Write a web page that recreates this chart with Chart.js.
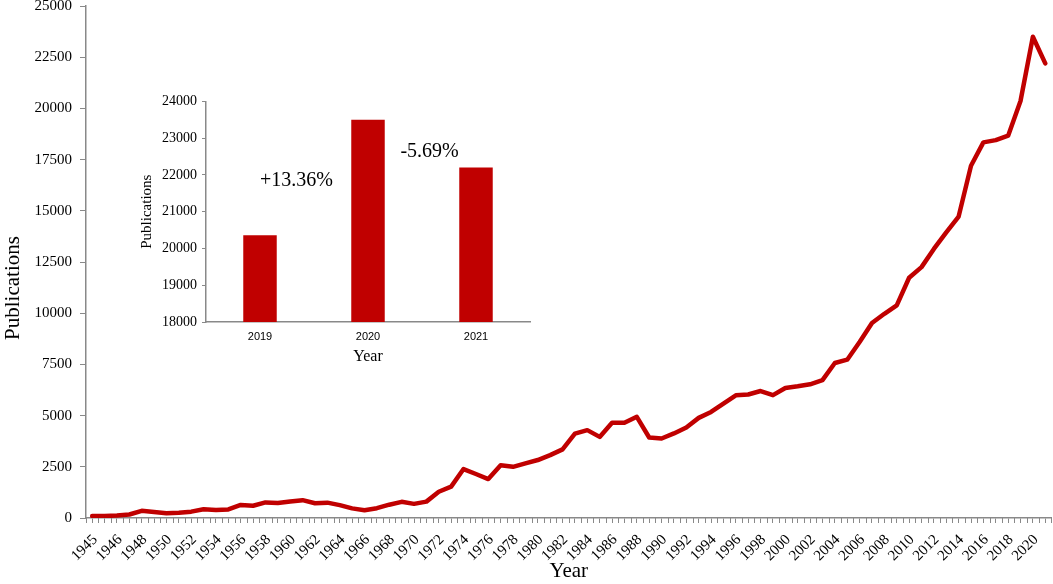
<!DOCTYPE html>
<html>
<head>
<meta charset="utf-8">
<script src="https://cdn.jsdelivr.net/npm/chart.js@4.4.0/dist/chart.umd.min.js"></script>
<style>
  html, body { margin: 0; padding: 0; background: #fff; overflow: hidden; }
  #wrap { position: relative; width: 1053px; height: 584px; overflow: hidden; }
  .box { position: absolute; }
</style>
</head>
<body>
<div id="wrap">
  <div class="box" style="left:0;top:-11px;width:1066px;height:595px"><canvas id="chart1"></canvas></div>
  <div class="box" style="left:130px;top:88px;width:420px;height:285px"><canvas id="chart2"></canvas></div>
</div>
<script>
// data
var years = ['1945', '', '1946', '1947', '1948', '1949', '1950', '1951', '1952', '1953',
    '1954', '1955', '1956', '1957', '1958', '1959', '1960', '1961', '1962', '1963',
    '1964', '1965', '1966', '1967', '1968', '1969', '1970', '1971', '1972', '1973',
    '1974', '1975', '1976', '1977', '1978', '1979', '1980', '1981', '1982', '1983',
    '1984', '1985', '1986', '1987', '1988', '1989', '1990', '1991', '1992', '1993',
    '1994', '1995', '1996', '1997', '1998', '1999', '2000', '2001', '2002', '2003',
    '2004', '2005', '2006', '2007', '2008', '2009', '2010', '2011', '2012', '2013',
    '2014', '2015', '2016', '2017', '2018', '2019', '2020', '2021'];

var publications = [100, 100, 120, 170, 350, 290, 230, 260, 310, 430,
    390, 420, 640, 600, 760, 730, 810, 870, 720, 750,
    630, 470, 380, 480, 650, 790, 690, 800, 1280, 1530,
    2390, 2150, 1900, 2580, 2500, 2670, 2830, 3070, 3350, 4120,
    4290, 3960, 4650, 4650, 4940, 3930, 3880, 4130, 4420, 4890,
    5180, 5590, 5990, 6030, 6200, 6000, 6350, 6430, 6530, 6730,
    7570, 7730, 8590, 9520, 9970, 10380, 11730, 12250, 13140, 13950,
    14720, 17200, 18340, 18450, 18670, 20360, 23500, 22200];

var insetYears = ['2019', '2020', '2021'];
var insetValues = [20360, 23500, 22200];
var changeLabels = ['+13.36%', '-5.69%'];

var serif = "'Liberation Serif', 'Times New Roman', serif";
var sans = "'Liberation Sans', Arial, sans-serif";
var red = '#C00000';
var axisGrey = '#898989';

Chart.defaults.color = '#000';

function plain(v) { return String(v); }

// small ticks half way between the yearly ticks, plus the y title
var halfTicks = {
    id: 'halfTicks',
    afterDraw: function(chart) {
        var x = chart.scales.x, ctx = chart.ctx;
        var area = chart.chartArea;
        ctx.save();
        ctx.strokeStyle = axisGrey;
        ctx.lineWidth = 1;
        ctx.beginPath();
        for (var i = -1; i < years.length; i++) {
            var px = Math.round(x.getPixelForValue(i + 0.5)) + 0.5;
            ctx.moveTo(px, area.bottom);
            ctx.lineTo(px, area.bottom + 5);
        }
        ctx.stroke();

        ctx.translate(13, (area.top + area.bottom) / 2 + 26);
        ctx.rotate(-Math.PI / 2);
        ctx.font = '21px ' + serif;
        ctx.fillStyle = '#000';
        ctx.textAlign = 'center';
        ctx.textBaseline = 'middle';
        ctx.fillText('Publications', 0, 0);
        ctx.restore();
    }
};

// chart1 - publications per year
var ctx = document.getElementById('chart1').getContext('2d');
var myChart = new Chart(ctx, {
    type: 'line',
    data: {
        labels: years,
        datasets: [{
            label: 'Publications',
            data: publications,
            borderColor: red,
            backgroundColor: red,
            borderWidth: 4.5,
            tension: 0,
            pointRadius: 0,
            borderJoinStyle: 'round',
            borderCapStyle: 'round'
        }]
    },
    options: {
        maintainAspectRatio: false,
        animation: false,
        layout: { padding: 0 },
        plugins: {
            legend: { display: false },
            tooltip: { enabled: false }
        },
        scales: {
            x: {
                offset: true,
                afterFit: function(s) { s.height = 66; },
                grid: { drawOnChartArea: false, color: axisGrey, tickLength: 5, offset: false },
                border: { color: axisGrey, width: 1.5 },
                ticks: {
                    autoSkip: false,
                    maxRotation: 45,
                    minRotation: 45,
                    padding: 8,
                    labelOffset: 3,
                    font: { family: serif, size: 15 },
                    callback: function(v, i) { return i % 2 === 0 ? this.getLabelForValue(v) : ''; }
                },
                title: { display: true, text: 'Year', font: { family: serif, size: 21 }, padding: { top: 0, bottom: 0 } }
            },
            y: {
                min: 0,
                max: 25000,
                afterFit: function(s) { s.width = 86; },
                grid: { drawOnChartArea: false, color: axisGrey, tickLength: 6 },
                border: { color: axisGrey, width: 1.5 },
                ticks: { stepSize: 2500, padding: 8, font: { family: serif, size: 15 }, callback: plain },
                title: { display: false }
            }
        }
    },
    plugins: [halfTicks]
});

// percentage change labels in the inset
var changeText = {
    id: 'changeText',
    afterDatasetsDraw: function(chart) {
        var x = chart.scales.x, y = chart.scales.y, c = chart.ctx;
        c.save();
        c.font = '20px ' + serif;
        c.fillStyle = '#000';
        c.textAlign = 'left';
        c.textBaseline = 'middle';
        c.fillText(changeLabels[0], x.getPixelForValue(0), y.getPixelForValue(21850));
        c.fillText(changeLabels[1], x.getPixelForValue(1.3), y.getPixelForValue(22620));
        c.restore();
    }
};

// chart2 - inset, last three years
var ctx = document.getElementById('chart2').getContext('2d');
var myChart = new Chart(ctx, {
    type: 'bar',
    data: {
        labels: insetYears,
        datasets: [{
            label: 'Publications',
            data: insetValues,
            backgroundColor: red,
            borderWidth: 0,
            barPercentage: 0.31,
            categoryPercentage: 1
        }]
    },
    options: {
        maintainAspectRatio: false,
        animation: false,
        layout: { padding: { top: 5, right: 20 } },
        plugins: {
            legend: { display: false },
            tooltip: { enabled: false }
        },
        scales: {
            x: {
                afterFit: function(s) { s.height = 51; },
                grid: { display: false },
                border: { color: axisGrey, width: 1.5 },
                ticks: { padding: 0, font: { family: sans, size: 11 } },
                title: { display: true, text: 'Year', font: { family: serif, size: 16 }, padding: { top: 0, bottom: 7 } }
            },
            y: {
                min: 18000,
                max: 24000,
                afterFit: function(s) { s.width = 76; },
                grid: { drawOnChartArea: false, color: axisGrey, tickLength: 4 },
                border: { color: axisGrey, width: 1.5 },
                ticks: { stepSize: 1000, padding: 5, font: { family: serif, size: 14 }, callback: plain },
                title: { display: true, text: 'Publications', font: { family: serif, size: 15 }, padding: { top: 8, bottom: 0 } }
            }
        }
    },
    plugins: [changeText]
});
</script>
</body>
</html>
